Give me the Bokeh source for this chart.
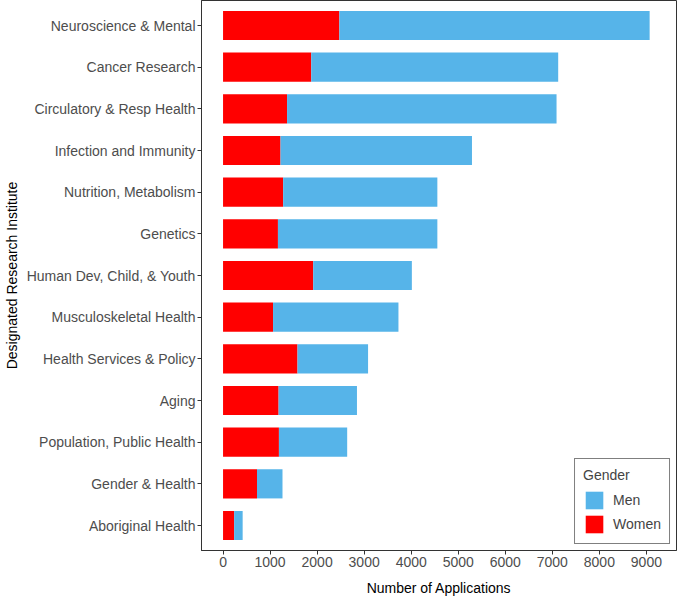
from bokeh.plotting import figure
from bokeh.models import FactorRange, Range1d, Legend, LegendItem, FixedTicker, ColumnDataSource
from bokeh.embed import file_html
from bokeh.resources import INLINE

categories = ["Neuroscience & Mental", "Cancer Research", "Circulatory & Resp Health",
              "Infection and Immunity", "Nutrition, Metabolism", "Genetics",
              "Human Dev, Child, & Youth", "Musculoskeletal Health", "Health Services & Policy",
              "Aging", "Population, Public Health", "Gender & Health", "Aboriginal Health"]
women = [2473, 1875, 1361, 1222, 1278, 1167, 1917, 1063, 1583, 1181, 1188, 722, 236]
totals = [9069, 7125, 7090, 5292, 4556, 4556, 4014, 3729, 3083, 2847, 2639, 1264, 417]
men = [t - w for t, w in zip(totals, women)]
x_ticks = [0, 1000, 2000, 3000, 4000, 5000, 6000, 7000, 8000, 9000]

FONT = "Liberation Sans"
RED = "#FF0000"
BLUE = "#56B4E9"

source = ColumnDataSource(dict(cat=categories, Women=women, Men=men))

p = figure(width=677, height=598, output_backend="svg", toolbar_location=None,
           y_range=FactorRange(factors=list(reversed(categories)), range_padding=0.1,
                               range_padding_units="absolute"),
           x_range=Range1d(-458, 9640))

r = p.hbar_stack(["Women", "Men"], y="cat", height=0.7, color=[RED, BLUE],
                 line_color=None, source=source)

p.min_border_left = 199
p.min_border_right = 1
p.min_border_top = 0
p.min_border_bottom = 4

p.outline_line_color = "#333333"
p.outline_line_width = 1
p.xgrid.visible = False
p.ygrid.visible = False

for ax in (p.xaxis[0], p.yaxis[0]):
    ax.axis_line_color = "#333333"
    ax.major_tick_line_color = "#333333"
    ax.major_tick_out = 4
    ax.major_tick_in = 0
    ax.minor_tick_line_color = None
    ax.major_label_text_font = FONT
    ax.major_label_text_font_size = "14px"
    ax.major_label_text_color = "#4d4d4d"
    ax.axis_label_text_font = FONT
    ax.axis_label_text_font_size = "14px"
    ax.axis_label_text_font_style = "normal"
    ax.axis_label_text_color = "black"

p.xaxis.ticker = FixedTicker(ticks=x_ticks)
p.xaxis.axis_label = "Number of Applications"
p.yaxis.axis_label = "Designated Research Institute"
p.xaxis.major_label_standoff = 2
p.yaxis.major_label_standoff = 2
p.xaxis.axis_label_standoff = 10
p.yaxis.axis_label_standoff = 4

legend = Legend(items=[LegendItem(label="Men", renderers=[r[1]]),
                       LegendItem(label="Women", renderers=[r[0]])],
                location="bottom_right", title="Gender")
legend.title_text_font = FONT
legend.title_text_font_size = "14px"
legend.title_text_font_style = "normal"
legend.label_text_font = FONT
legend.label_text_font_size = "14px"
legend.glyph_width = 22
legend.glyph_height = 22
legend.spacing = 2
legend.padding = 8
legend.margin = 6
legend.label_standoff = 8
legend.title_standoff = 6
legend.border_line_color = "black"
legend.border_line_width = 1.5
p.add_layout(legend, "center")

open("out.html", "w").write(file_html(p, INLINE))
